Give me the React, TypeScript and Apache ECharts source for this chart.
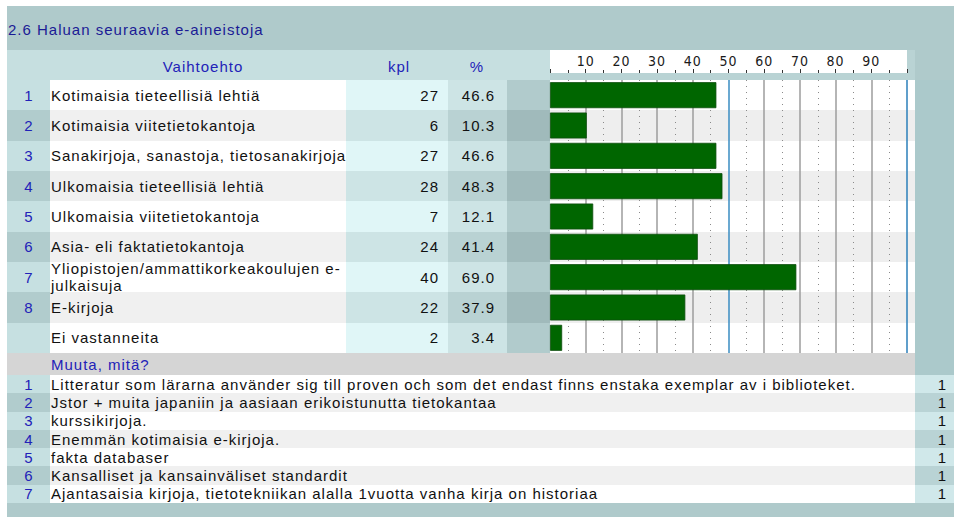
import React, { useEffect, useRef } from 'react';
import * as echarts from 'echarts';

// ---------- data ----------
const titleText = '2.6 Haluan seuraavia e-aineistoja';
const headerLabels = ['Vaihtoehto', 'kpl', '%'];
const rowNumbers = ['1', '2', '3', '4', '5', '6', '7', '8', ''];
const categories = [
  'Kotimaisia tieteellisiä lehtiä',
  'Kotimaisia viitetietokantoja',
  'Sanakirjoja, sanastoja, tietosanakirjoja',
  'Ulkomaisia tieteellisiä lehtiä',
  'Ulkomaisia viitetietokantoja',
  'Asia- eli faktatietokantoja',
  'Yliopistojen/ammattikorkeakoulujen e-\njulkaisuja',
  'E-kirjoja',
  'Ei vastanneita',
];
const counts = [27, 6, 27, 28, 7, 24, 40, 22, 2];
const percents = [46.6, 10.3, 46.6, 48.3, 12.1, 41.4, 69.0, 37.9, 3.4];
const tickLabels = ['10', '20', '30', '40', '50', '60', '70', '80', '90'];

const otherTitle = 'Muuta, mitä?';
const otherNumbers = ['1', '2', '3', '4', '5', '6', '7'];
const otherAnswers = [
  'Litteratur som lärarna använder sig till proven och som det endast finns enstaka exemplar av i biblioteket.',
  'Jstor + muita japaniin ja aasiaan erikoistunutta tietokantaa',
  'kurssikirjoja.',
  'Enemmän kotimaisia e-kirjoja.',
  'fakta databaser',
  'Kansalliset ja kansainväliset standardit',
  'Ajantasaisia kirjoja, tietotekniikan alalla 1vuotta vanha kirja on historiaa',
];
const otherCounts = [1, 1, 1, 1, 1, 1, 1];

// ---------- layout ----------
const FONT = "'Liberation Sans', Arial, sans-serif";
const FS = 15;
const L = 7;
const R = 954;
const TITLE_TOP = 6;
const HEAD_TOP = 50;
const STRIP_BOTTOM = 73;
const ROWS_TOP = 80;
const ROWS_BOTTOM = 353;
const OTHER_TOP = 375;
const LIST_BOTTOM = 503;
const FOOT_BOTTOM = 517;
const COL_TEXT = 50;
const COL_KPL = 346;
const COL_PCT = 448;
const COL_GRAY = 507;
const PLOT_L = 550;
const PLOT_R = 907;
const PLOT_BG_R = 915;

const BLUE = '#2222b8';
const TEAL = '#afcacb';

function rect(x1: number, y1: number, x2: number, y2: number, fill: string) {
  const x = Math.round(x1);
  const y = Math.round(y1);
  return {
    type: 'rect',
    z: -10,
    silent: true,
    shape: { x, y, width: Math.round(x2) - x, height: Math.round(y2) - y },
    style: { fill },
  };
}

function text(x: number, y: number, t: string, fill: string, align: string) {
  return {
    type: 'text',
    z: 50,
    silent: true,
    x,
    y,
    style: { text: t, fill, font: `${FS}px ${FONT}`, textAlign: align, textVerticalAlign: 'middle' },
  };
}

function buildGraphic() {
  const els: any[] = [];
  // title + header
  els.push(rect(L, TITLE_TOP, R, HEAD_TOP, TEAL));
  els.push(rect(L, HEAD_TOP, PLOT_L, ROWS_TOP, '#c6dfe0'));
  els.push(rect(PLOT_L, HEAD_TOP, PLOT_BG_R, ROWS_TOP, '#b9d3d4'));
  els.push(rect(PLOT_L, HEAD_TOP, PLOT_R, STRIP_BOTTOM, '#ffffff'));
  els.push(rect(PLOT_BG_R, HEAD_TOP, R, ROWS_TOP, TEAL));

  const cols: [number, number, string, string][] = [
    [L, COL_TEXT, '#c6e0e1', '#b1cccd'],
    [COL_TEXT, COL_KPL, '#ffffff', '#f0f0f0'],
    [COL_KPL, COL_PCT, '#e0f6f7', '#cde4e5'],
    [COL_PCT, COL_GRAY, '#cde4e5', '#b9d2d3'],
    [COL_GRAY, PLOT_L, '#b1cbcc', '#a0babb'],
    [PLOT_L, PLOT_BG_R, '#ffffff', '#eeeeee'],
    [PLOT_BG_R, R, '#abc9cb', '#abc9cb'],
  ];
  const n = categories.length;
  const rh = (ROWS_BOTTOM - ROWS_TOP) / n;
  for (let i = 0; i < n; i++) {
    const y1 = ROWS_TOP + i * rh;
    const y2 = y1 + rh;
    cols.forEach(([a, b, c1, c2]) => els.push(rect(a, y1, b, y2, i % 2 ? c2 : c1)));
  }
  // "Muuta" row
  els.push(rect(L, ROWS_BOTTOM, PLOT_BG_R, OTHER_TOP, '#d5d5d5'));
  els.push(rect(PLOT_BG_R, ROWS_BOTTOM, R, OTHER_TOP, '#abc9cb'));
  // list rows
  const m = otherAnswers.length;
  const lh = (LIST_BOTTOM - OTHER_TOP) / m;
  const listCols: [number, number, string, string][] = [
    [L, COL_TEXT, '#c6e0e1', '#b1cccd'],
    [COL_TEXT, PLOT_BG_R, '#ffffff', '#f0f0f0'],
    [PLOT_BG_R, R, '#d0e8ea', '#b9d3d5'],
  ];
  for (let i = 0; i < m; i++) {
    const y1 = OTHER_TOP + i * lh;
    const y2 = y1 + lh;
    listCols.forEach(([a, b, c1, c2]) => els.push(rect(a, y1, b, y2, i % 2 ? c2 : c1)));
  }
  els.push(rect(L, LIST_BOTTOM, R, FOOT_BOTTOM, TEAL));

  // texts
  els.push(text(8, 29, titleText, '#1b1b95', 'left'));
  els.push(text(203, 66, headerLabels[0], BLUE, 'center'));
  els.push(text(399, 66, headerLabels[1], BLUE, 'center'));
  els.push(text(477, 66, headerLabels[2], BLUE, 'center'));
  els.push(text(51, (ROWS_BOTTOM + OTHER_TOP) / 2, otherTitle, BLUE, 'left'));
  return els;
}

function catAxis(gridIndex: number, data: string[], position: string, margin: number, align: string, color: string, formatter: (v: string, i: number) => string) {
  return {
    type: 'category',
    gridIndex,
    data,
    inverse: true,
    position,
    axisLine: { show: false },
    axisTick: { show: false },
    splitLine: { show: false },
    splitArea: { show: false },
    axisLabel: {
      show: true,
      interval: 0,
      margin,
      align,
      color,
      fontFamily: FONT,
      fontSize: FS,
      lineHeight: 17,
      formatter,
    },
  };
}

export default function App() {
  const ref = useRef<HTMLDivElement>(null);
  useEffect(() => {
    if (!ref.current) return;
    const chart = echarts.init(ref.current, undefined, { renderer: 'svg' });
    const gray = '#9c9c9c';
    const splitColors = ['rgba(0,0,0,0)', gray, gray, gray, gray, '#3a8cc2', gray, gray, gray, gray, '#2b7fba'];
    const option: any = {
      animation: false,
      backgroundColor: '#ffffff',
      grid: [
        { left: PLOT_L, right: 960 - PLOT_R, top: ROWS_TOP, height: ROWS_BOTTOM - ROWS_TOP, outerBoundsMode: 'none', containLabel: false },
        { left: PLOT_BG_R, right: 960 - 947, top: OTHER_TOP, height: LIST_BOTTOM - OTHER_TOP, outerBoundsMode: 'none', containLabel: false },
      ],
      xAxis: [
        {
          type: 'value',
          gridIndex: 0,
          position: 'top',
          offset: ROWS_TOP - STRIP_BOTTOM,
          min: 0,
          max: 100,
          interval: 10,
          axisLine: { show: false },
          axisTick: { show: true, length: 4, lineStyle: { color: '#333', width: 1 } },
          minorTick: { show: true, splitNumber: 2, length: 3, lineStyle: { color: '#333', width: 1 } },
          axisLabel: {
            margin: 5,
            color: '#1a1a1a',
            fontFamily: "'Liberation Sans Narrow', 'DejaVu Sans Condensed', sans-serif",
            fontSize: 14,
            formatter: (v: number) => (tickLabels.includes(String(v)) ? String(v) : ''),
          },
          splitLine: { show: true, lineStyle: { color: splitColors, width: 1.5 } },
          minorSplitLine: { show: true, lineStyle: { color: '#8a8a8a', width: 1, type: [1, 5] } },
        },
        { type: 'value', gridIndex: 1, show: false },
      ],
      yAxis: [
        catAxis(0, categories, 'left', PLOT_L - 51, 'left', '#111', (v) => v),
        catAxis(0, categories, 'left', PLOT_L - 439, 'right', '#111', (_v, i) => String(counts[i])),
        catAxis(0, categories, 'left', PLOT_L - 495, 'right', '#111', (_v, i) => percents[i].toFixed(1)),
        catAxis(0, categories, 'left', PLOT_L - 29, 'center', BLUE, (_v, i) => rowNumbers[i]),
        catAxis(1, otherAnswers, 'left', PLOT_BG_R - 51, 'left', '#111', (v) => v),
        catAxis(1, otherAnswers, 'left', PLOT_BG_R - 29, 'center', BLUE, (_v, i) => otherNumbers[i]),
        catAxis(1, otherAnswers, 'right', 0, 'right', '#111', (_v, i) => String(otherCounts[i])),
      ],
      series: [
        {
          type: 'bar',
          xAxisIndex: 0,
          yAxisIndex: 0,
          data: percents,
          barWidth: 26,
          itemStyle: { color: '#006600', borderColor: '#0d4d0d', borderWidth: 0.8 },
          z: 5,
        },
      ],
      graphic: { elements: buildGraphic() },
    };
    chart.setOption(option);
    return () => chart.dispose();
  }, []);
  return (
    <div
      ref={ref}
      style={{ position: 'fixed', left: 0, top: 0, width: 960, height: 526, letterSpacing: '1px', background: '#fff' }}
    />
  );
}
